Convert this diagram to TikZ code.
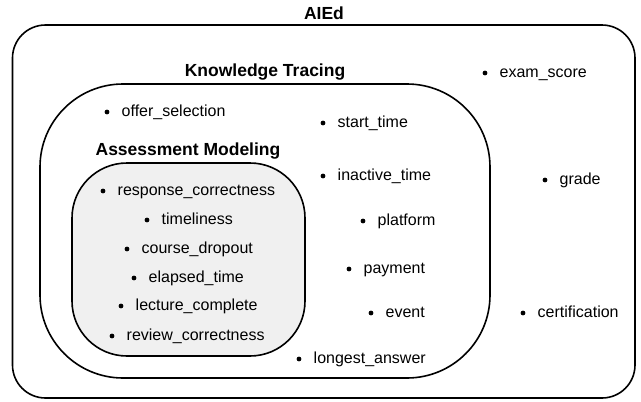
\documentclass[tikz,border=0pt]{standalone}
\usepackage{fontspec}
\setmainfont{Liberation Sans}
\definecolor{amfill}{RGB}{240,240,240}
\newcommand\myitem[4]{%
  \node[dotnode] (#1d) at (#2,#3) {};
  \node[itemtext] (#1) at ([xshift=14.5pt,yshift=-4.4pt]#1d.center) {#4};}
\tikzset{
  setbox/.style={line width=1.6pt, draw=black},
  dotnode/.style={circle, fill=black, inner sep=0pt, minimum size=4.8pt},
  itemtext/.style={anchor=base west, inner sep=0pt, font=\fontsize{16}{19}\selectfont},
  titletext/.style={inner sep=0pt, font=\fontsize{17.5}{21}\selectfont\bfseries},
}
\begin{document}
\begin{tikzpicture}[x=1pt,y=-1pt]
\useasboundingbox (0,0) rectangle (641,402);
% sets
\draw[setbox, rounded corners=33pt] (12.5,25) rectangle (635,398);
\draw[setbox, rounded corners=83pt] (40,84) rectangle (490,378);
\draw[setbox, fill=amfill, rounded corners=55pt] (72,163) rectangle (305,356);
% titles
\node[titletext] (aied) at (324,13) {AIEd};
\node[titletext] (kt) at (265,72) {Knowledge Tracing};
\node[titletext] (am) at (188,151) {Assessment Modeling};
% items
\myitem{exam}{485}{73}{exam\_score}
\myitem{offer}{107}{112}{offer\_selection}
\myitem{start}{323}{123}{start\_time}
\myitem{inactive}{323}{176}{inactive\_time}
\myitem{grade}{545}{180}{grade}
\myitem{platform}{363}{221}{platform}
\myitem{payment}{349}{269}{payment}
\myitem{event}{371}{313}{event}
\myitem{cert}{523}{313}{certification}
\myitem{longest}{299}{359}{longest\_answer}
\myitem{resp}{103}{191}{response\_correctness}
\myitem{timel}{147}{220}{timeliness}
\myitem{course}{127}{249}{course\_dropout}
\myitem{elapsed}{134}{278}{elapsed\_time}
\myitem{lecture}{121}{306}{lecture\_complete}
\myitem{review}{112}{336}{review\_correctness}
\end{tikzpicture}
\end{document}
